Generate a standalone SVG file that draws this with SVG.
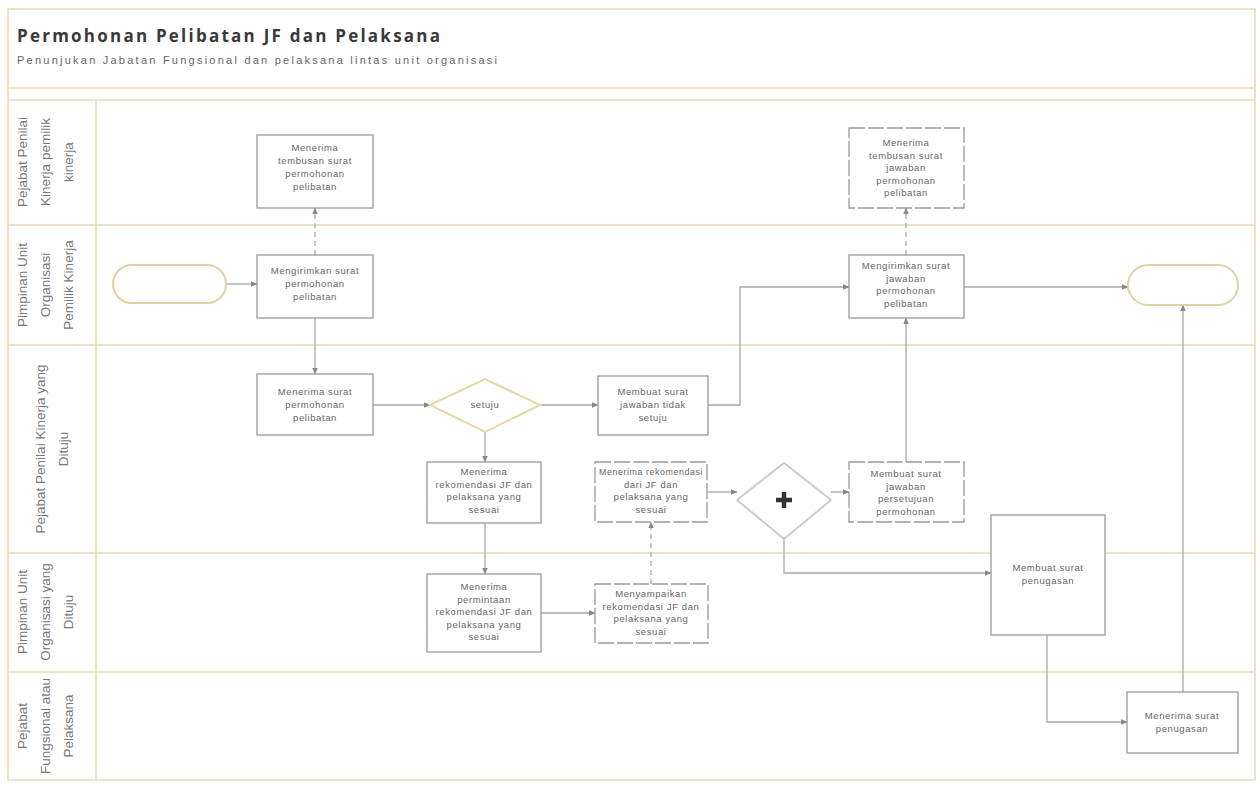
<svg xmlns="http://www.w3.org/2000/svg" width="1260" height="789" viewBox="0 0 1260 789">
  <style>
    .lane { fill: none; stroke: #e6dbb0; stroke-width: 1.5; }
    .sep { stroke: #e6dbb0; stroke-width: 1.5; }
    .lbl { font-family: "Liberation Sans", Arial, sans-serif; font-size: 13.5px; fill: #777; }
    .box { fill: #fff; stroke: #9a9a9a; stroke-width: 1.3; }
    .boxd { fill: #fff; stroke: #9a9a9a; stroke-width: 1.3; stroke-dasharray: 16 3; }
    .txt { font-family: "Liberation Sans", Arial, sans-serif; font-size: 9.5px; letter-spacing: 0.6px; fill: #666; text-anchor: middle; }
    .ev { fill: #fff; stroke: #ddd3a6; stroke-width: 2; }
    .gw { fill: #fff; stroke: #cccccc; stroke-width: 2; }
    .gwx { fill: #fff; stroke: #e3d9a8; stroke-width: 2; }
    .flow { fill: none; stroke: #a8a8a8; stroke-width: 1.3; marker-end: url(#arr); }
    .msg { fill: none; stroke: #a8a8a8; stroke-width: 1.3; stroke-dasharray: 5 4; marker-end: url(#arr); }
  </style>
  <defs>
    <marker id="arr" viewBox="0 0 10 10" refX="9" refY="5" markerWidth="7" markerHeight="7" orient="auto-start-reverse" markerUnits="userSpaceOnUse">
      <path d="M0,1 L10,5 L0,9 z" fill="#888"/>
    </marker>
  </defs>

  <rect width="1260" height="789" fill="#fff"/>

  <!-- pool frame and header -->
  <g id="pool">
    <rect class="lane" x="8" y="9" width="1247" height="771"/>
    <line class="sep" x1="8" y1="88" x2="1255" y2="88"/>
    <line class="sep" x1="8" y1="100" x2="1255" y2="100"/>
    <line class="sep" x1="96" y1="100" x2="96" y2="780"/>
    <line class="sep" x1="8" y1="225" x2="1255" y2="225"/>
    <line class="sep" x1="8" y1="345" x2="1255" y2="345"/>
    <line class="sep" x1="8" y1="553" x2="1255" y2="553"/>
    <line class="sep" x1="8" y1="672" x2="1255" y2="672"/>
    <text x="17" y="42" textLength="423" lengthAdjust="spacing" font-family="'Open Sans', 'DejaVu Sans', sans-serif" font-size="17" font-weight="bold" fill="#3a3a3a">Permohonan Pelibatan JF dan Pelaksana</text>
    <text x="17" y="64" textLength="480" lengthAdjust="spacing" font-family="'Liberation Sans', Arial, sans-serif" font-size="11" fill="#666">Penunjukan Jabatan Fungsional dan pelaksana lintas unit organisasi</text>
  </g>

  <!-- lane labels -->
  <g id="lane-labels">
    <text class="lbl" text-anchor="middle" transform="translate(27,162) rotate(-90)"><tspan x="0" dy="0">Pejabat Penilai</tspan><tspan x="0" dy="23">Kinerja pemilik</tspan><tspan x="0" dy="23">kinerja</tspan></text>
    <text class="lbl" text-anchor="middle" transform="translate(27,285) rotate(-90)"><tspan x="0" dy="0">Pimpinan Unit</tspan><tspan x="0" dy="23">Organisasi</tspan><tspan x="0" dy="23">Pemilik Kinerja</tspan></text>
    <text class="lbl" text-anchor="middle" transform="translate(45,449) rotate(-90)"><tspan x="0" dy="0">Pejabat Penilai Kinerja yang</tspan><tspan x="0" dy="23">Dituju</tspan></text>
    <text class="lbl" text-anchor="middle" transform="translate(27,612) rotate(-90)"><tspan x="0" dy="0">Pimpinan Unit</tspan><tspan x="0" dy="23">Organisasi yang</tspan><tspan x="0" dy="23">Dituju</tspan></text>
    <text class="lbl" text-anchor="middle" transform="translate(27,726) rotate(-90)"><tspan x="0" dy="0">Pejabat</tspan><tspan x="0" dy="23">Fungsional atau</tspan><tspan x="0" dy="23">Pelaksana</tspan></text>
  </g>

  <!-- connectors -->
  <g id="connectors">
    <path class="flow" d="M226,284 H257"/>
    <path class="msg" d="M315,255 V208"/>
    <path class="flow" d="M315,318 V374"/>
    <path class="flow" d="M373,405 H430"/>
    <path class="flow" d="M540,405 H598"/>
    <path class="flow" d="M485,432 V462"/>
    <path class="flow" d="M708,405 H740 V287 H849"/>
    <path class="flow" d="M485,523 V574"/>
    <path class="flow" d="M541,613 H595"/>
    <path class="msg" d="M651,584 V522"/>
    <path class="flow" d="M707,492 H737"/>
    <path class="flow" d="M831,492 H849"/>
    <path class="flow" d="M784,539 V573 H991"/>
    <path class="flow" d="M906,462 V318"/>
    <path class="msg" d="M906,255 V208"/>
    <path class="flow" d="M964,287 H1128"/>
    <path class="flow" d="M1047,635 V722 H1127"/>
    <path class="flow" d="M1183,692 V305"/>
  </g>

  <!-- events -->
  <g id="start">
    <rect class="ev" x="113" y="265" width="113" height="38" rx="19"/>
  </g>
  <g id="end">
    <rect class="ev" x="1128" y="265" width="110" height="40" rx="20"/>
  </g>

  <!-- tasks -->
  <g id="t-tembusan-permohonan">
    <rect class="box" x="257" y="135" width="116" height="73"/>
    <text class="txt" x="315" y="151"><tspan x="315">Menerima</tspan><tspan x="315" dy="13">tembusan surat</tspan><tspan x="315" dy="13">permohonan</tspan><tspan x="315" dy="13">pelibatan</tspan></text>
  </g>
  <g id="t-kirim-permohonan">
    <rect class="box" x="257" y="255" width="116" height="63"/>
    <text class="txt" x="315" y="274"><tspan x="315">Mengirimkan surat</tspan><tspan x="315" dy="13">permohonan</tspan><tspan x="315" dy="13">pelibatan</tspan></text>
  </g>
  <g id="t-terima-permohonan">
    <rect class="box" x="257" y="374" width="116" height="61"/>
    <text class="txt" x="315" y="395"><tspan x="315">Menerima surat</tspan><tspan x="315" dy="13">permohonan</tspan><tspan x="315" dy="13">pelibatan</tspan></text>
  </g>
  <g id="g-setuju">
    <polygon class="gwx" points="430,405 485,379 540,405 485,432"/>
    <text class="txt" x="485" y="408">setuju</text>
  </g>
  <g id="t-jawaban-tidak-setuju">
    <rect class="box" x="598" y="376" width="110" height="59"/>
    <text class="txt" x="653" y="395"><tspan x="653">Membuat surat</tspan><tspan x="653" dy="13">jawaban tidak</tspan><tspan x="653" dy="13">setuju</tspan></text>
  </g>
  <g id="t-terima-rekomendasi-1">
    <rect class="box" x="427" y="462" width="114" height="61"/>
    <text class="txt" x="484" y="475"><tspan x="484">Menerima</tspan><tspan x="484" dy="12.5">rekomendasi JF dan</tspan><tspan x="484" dy="12.5">pelaksana yang</tspan><tspan x="484" dy="12.5">sesuai</tspan></text>
  </g>
  <g id="t-terima-rekomendasi-2">
    <rect class="boxd" x="595" y="462" width="112" height="60"/>
    <text class="txt" x="651" y="475"><tspan x="651" textLength="104" lengthAdjust="spacingAndGlyphs">Menerima rekomendasi</tspan><tspan x="651" dy="12.5">dari JF dan</tspan><tspan x="651" dy="12.5">pelaksana yang</tspan><tspan x="651" dy="12.5">sesuai</tspan></text>
  </g>
  <g id="g-paralel">
    <polygon class="gw" points="737,500 784,463 831,500 784,539"/>
    <path d="M784,492 V508 M776,500 H792" stroke="#333" stroke-width="4.5"/>
  </g>
  <g id="t-jawaban-persetujuan">
    <rect class="boxd" x="849" y="462" width="115" height="60"/>
    <text class="txt" x="906" y="477"><tspan x="906">Membuat surat</tspan><tspan x="906" dy="12.5">jawaban</tspan><tspan x="906" dy="12.5">persetujuan</tspan><tspan x="906" dy="12.5">permohonan</tspan></text>
  </g>
  <g id="t-kirim-jawaban">
    <rect class="box" x="849" y="255" width="115" height="63"/>
    <text class="txt" x="906" y="269"><tspan x="906">Mengirimkan surat</tspan><tspan x="906" dy="12.5">jawaban</tspan><tspan x="906" dy="12.5">permohonan</tspan><tspan x="906" dy="12.5">pelibatan</tspan></text>
  </g>
  <g id="t-tembusan-jawaban">
    <rect class="boxd" x="849" y="128" width="115" height="80"/>
    <text class="txt" x="906" y="146"><tspan x="906">Menerima</tspan><tspan x="906" dy="12.5">tembusan surat</tspan><tspan x="906" dy="12.5">jawaban</tspan><tspan x="906" dy="12.5">permohonan</tspan><tspan x="906" dy="12.5">pelibatan</tspan></text>
  </g>
  <g id="t-permintaan-rekomendasi">
    <rect class="box" x="427" y="574" width="114" height="78"/>
    <text class="txt" x="484" y="590"><tspan x="484">Menerima</tspan><tspan x="484" dy="12.5">permintaan</tspan><tspan x="484" dy="12.5">rekomendasi JF dan</tspan><tspan x="484" dy="12.5">pelaksana yang</tspan><tspan x="484" dy="12.5">sesuai</tspan></text>
  </g>
  <g id="t-sampaikan-rekomendasi">
    <rect class="boxd" x="595" y="584" width="113" height="59"/>
    <text class="txt" x="651" y="597"><tspan x="651">Menyampaikan</tspan><tspan x="651" dy="12.5">rekomendasi JF dan</tspan><tspan x="651" dy="12.5">pelaksana yang</tspan><tspan x="651" dy="12.5">sesuai</tspan></text>
  </g>
  <g id="t-surat-penugasan">
    <rect class="box" x="991" y="515" width="114" height="120"/>
    <text class="txt" x="1048" y="571"><tspan x="1048">Membuat surat</tspan><tspan x="1048" dy="12.5">penugasan</tspan></text>
  </g>
  <g id="t-terima-penugasan">
    <rect class="box" x="1127" y="692" width="111" height="61"/>
    <text class="txt" x="1182" y="719"><tspan x="1182">Menerima surat</tspan><tspan x="1182" dy="12.5">penugasan</tspan></text>
  </g>
</svg>
